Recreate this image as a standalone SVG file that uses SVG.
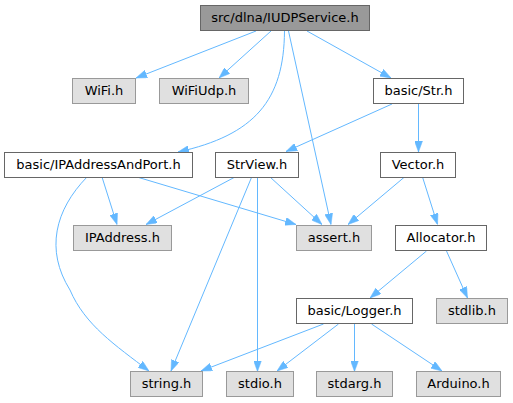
<svg xmlns="http://www.w3.org/2000/svg" width="513" height="403" viewBox="0 0 513 403">
<defs>
<style>
rect{stroke-width:1}
.n rect{fill:#ffffff;stroke:#666666}
.g rect{fill:#e0e0e0;stroke:#999999}
.top rect{fill:#999999;stroke:#666666}
text{font-family:"DejaVu Sans","Liberation Sans",sans-serif;font-size:13px;fill:#000000;text-anchor:middle}
#edges path{fill:none;stroke:#63b8ff;stroke-width:1;marker-end:url(#ah)}
</style>
<marker id="ah" markerUnits="userSpaceOnUse" markerWidth="11" markerHeight="8" refX="11" refY="4" orient="auto">
<path d="M0,0 L11,4 L0,8 z" fill="#63b8ff" stroke="#63b8ff" stroke-width="0.5"/>
</marker>
</defs>
<rect width="513" height="403" fill="#ffffff"/>
<g id="edges">
<path d="M256,31 L136,78"/>
<path d="M271,31 L219,78"/>
<path d="M284.5,31 C284,100 255,135 178,152"/>
<path d="M288.5,31 L331,224.5"/>
<path d="M307,31 L391,78"/>
<path d="M392,104 L286,151.5"/>
<path d="M418.5,104 L418.5,152"/>
<path d="M102,177 L117,224.5"/>
<path d="M137,177 L296,224.5"/>
<path d="M87,177 C55,210 45,250 70,290 C85,325 115,345 149,371"/>
<path d="M235,177 L146,224.5"/>
<path d="M251.7,177 L171,371"/>
<path d="M257.5,177 L257.5,371.5"/>
<path d="M270,177 L322,224.5"/>
<path d="M404.5,177 L348,224.5"/>
<path d="M422.5,177 L437.5,224.5"/>
<path d="M426.5,251 L370,298"/>
<path d="M446.5,251 L467.5,298"/>
<path d="M323.5,324 L201,371"/>
<path d="M338.5,324 L277,371"/>
<path d="M354.5,324 L354.5,371.5"/>
<path d="M371.5,324 L442,371"/>
</g>
<g id="IUDPService" class="top"><rect x="200.5" y="5.5" width="169" height="25"/><text x="285" y="22">src/dlna/IUDPService.h</text></g>
<g id="WiFi" class="g"><rect x="72.5" y="78.5" width="63" height="25"/><text x="104" y="95">WiFi.h</text></g>
<g id="WiFiUdp" class="g"><rect x="159.5" y="78.5" width="89" height="25"/><text x="204" y="95">WiFiUdp.h</text></g>
<g id="Str" class="n"><rect x="373.5" y="78.5" width="90" height="25"/><text x="418.5" y="95">basic/Str.h</text></g>
<g id="IPAddressAndPort" class="n"><rect x="4.5" y="152.5" width="188" height="25"/><text x="98.5" y="169">basic/IPAddressAndPort.h</text></g>
<g id="StrView" class="n"><rect x="215.5" y="152.5" width="83" height="25"/><text x="257" y="169">StrView.h</text></g>
<g id="Vector" class="n"><rect x="380.5" y="152.5" width="75" height="25"/><text x="418" y="169">Vector.h</text></g>
<g id="IPAddress" class="g"><rect x="73.5" y="225.5" width="98" height="25"/><text x="122.5" y="242">IPAddress.h</text></g>
<g id="assert" class="g"><rect x="296.5" y="225.5" width="75" height="25"/><text x="334" y="242">assert.h</text></g>
<g id="Allocator" class="n"><rect x="395.5" y="225.5" width="91" height="25"/><text x="441" y="242">Allocator.h</text></g>
<g id="Logger" class="n"><rect x="296.5" y="298.5" width="116" height="25"/><text x="354.5" y="315">basic/Logger.h</text></g>
<g id="stdlib" class="g"><rect x="436.5" y="298.5" width="71" height="25"/><text x="472" y="315">stdlib.h</text></g>
<g id="string" class="g"><rect x="130.5" y="371.5" width="72" height="25"/><text x="166.5" y="388">string.h</text></g>
<g id="stdio" class="g"><rect x="226.5" y="371.5" width="67" height="25"/><text x="260" y="388">stdio.h</text></g>
<g id="stdarg" class="g"><rect x="316.5" y="371.5" width="76" height="25"/><text x="354.5" y="388">stdarg.h</text></g>
<g id="Arduino" class="g"><rect x="416.5" y="371.5" width="84" height="25"/><text x="458.5" y="388">Arduino.h</text></g>
</svg>
